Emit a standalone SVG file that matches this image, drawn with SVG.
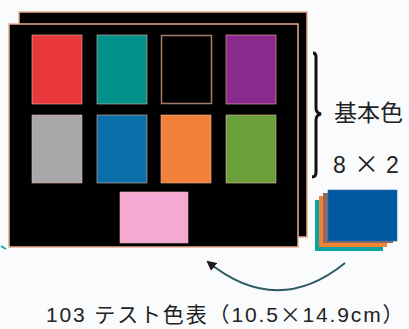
<svg xmlns="http://www.w3.org/2000/svg" width="409" height="329" viewBox="0 0 409 329">
<defs>
<style>
.board{fill:#000;stroke:#e9ad90;stroke-width:1.5}
.sw{stroke:#e9b5a0;stroke-width:0.6}
.lbl{font-family:"Liberation Sans","Noto Sans CJK JP",sans-serif;fill:#222}
.cjk{font-family:"Noto Sans CJK JP",sans-serif}
.conn{fill:none;stroke:#2e5a66;stroke-width:2}
</style>
<marker id="ah" viewBox="0 0 10 10" refX="8" refY="5" markerWidth="5" markerHeight="5" orient="auto-start-reverse" markerUnits="strokeWidth">
<path d="M0,0 L10,5 L0,10 Z" fill="#1a1a1a"/>
</marker>
</defs>
<rect width="409" height="329" fill="#fafbfd"/>
<text class="lbl" x="104" y="-2" font-size="20" fill="#888">基本色表</text>
<g id="board-back"><rect class="board" x="19" y="12" width="288" height="225"/></g>
<g id="board-front">
<rect class="board" x="9" y="24" width="289" height="223"/>
<rect class="sw" x="32" y="35" width="50" height="69" fill="#e8383c"/>
<rect class="sw" x="97" y="35" width="50" height="69" fill="#00928a"/>
<rect x="161.5" y="35.5" width="50" height="68" fill="#000" stroke="#a87a68" stroke-width="1.5"/>
<rect class="sw" x="226" y="35" width="50" height="69" fill="#8a2a8c"/>
<rect class="sw" x="32" y="115" width="50" height="68" fill="#a8a8aa"/>
<rect class="sw" x="97" y="115" width="50" height="68" fill="#0a6ea8"/>
<rect class="sw" x="161" y="115" width="50" height="68" fill="#f0803a"/>
<rect class="sw" x="226" y="115" width="50" height="68" fill="#6aa03c"/>
<rect class="sw" x="120" y="192" width="68" height="51" fill="#f3a9d2"/>
</g>
<g id="bracket"><path d="M313,53 Q316,53 316,57 L316,108 Q316,113 321,114 Q316,115 316,120 L316,172 Q316,177 312,177" fill="none" stroke="#111" stroke-width="3"/></g>
<g id="label-basic"><text class="lbl cjk" x="334" y="121" font-size="23">基本色</text></g>
<g id="label-count"><text class="lbl" y="173" font-size="23"><tspan x="333">8</tspan><tspan class="cjk" x="354" font-size="25">×</tspan><tspan x="386">2</tspan></text></g>
<g id="cards">
<rect x="315" y="200" width="68" height="51" fill="#0fa0a0"/>
<rect x="319" y="196" width="68" height="51" fill="#f08234"/>
<rect x="323" y="193" width="70" height="50" fill="#8c6c60"/>
<rect x="328" y="190" width="69" height="51" fill="#0058a0" stroke="#3a6aa8" stroke-width="0.6"/>
</g>
<path d="M1,246 L6,249" stroke="#10a0a0" stroke-width="1.5"/>
<g id="connectors"><path class="conn" d="M345,263 Q277,318 208,262" marker-end="url(#ah)"/></g>
<g id="label-bottom"><text class="lbl" x="46" y="322" font-size="21" letter-spacing="1.85">103 <tspan class="cjk">テスト色表（</tspan>10.5<tspan class="cjk">×</tspan>14.9cm<tspan class="cjk">）</tspan></text></g>
</svg>
